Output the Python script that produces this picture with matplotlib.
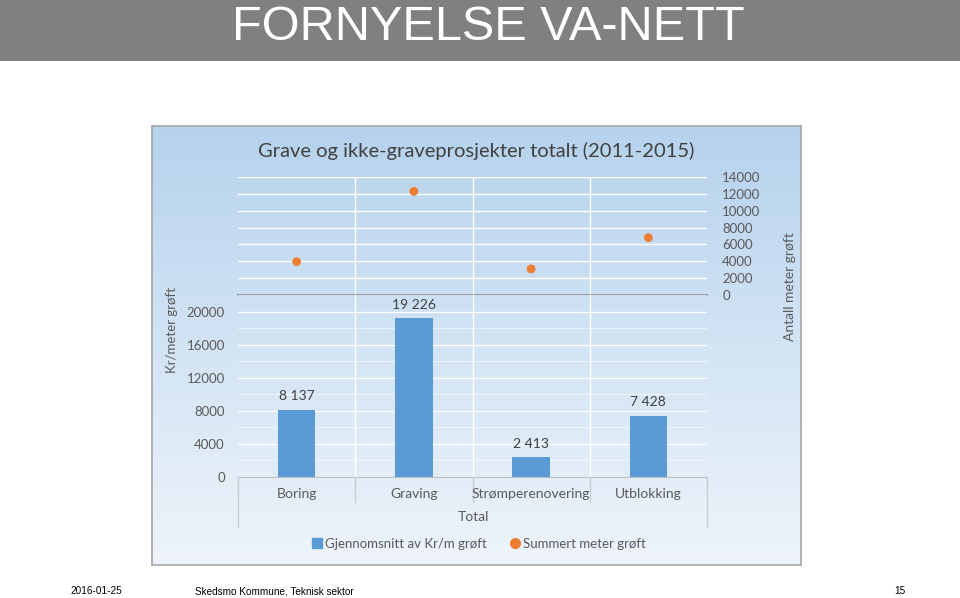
import matplotlib
matplotlib.use("Agg")
import matplotlib.pyplot as plt
import numpy as np
from matplotlib.lines import Line2D
from matplotlib.patches import Rectangle
from matplotlib.colors import LinearSegmentedColormap

categories = ["Boring", "Graving", "Strømperenovering", "Utblokking"]
kr_per_m = [8137, 19226, 2413, 7428]
bar_labels = ["8 137", "19 226", "2 413", "7 428"]
meter_sum = [3950, 12300, 3100, 6800]
left_ticks = [0, 4000, 8000, 12000, 16000, 20000]
right_ticks = [0, 2000, 4000, 6000, 8000, 10000, 12000, 14000]

W, H = 960, 598
fig = plt.figure(figsize=(9.6, 5.98), dpi=100)
fig.patch.set_facecolor("white")

def fx(x):
    return x / W

def fy(y):
    return 1 - y / H

CF = ["Lato", "DejaVu Sans"]
TXT = "#595959"
NF = ["Liberation Sans Narrow", "Liberation Sans", "DejaVu Sans"]

# header band
fig.patches.append(Rectangle((0, fy(61)), 1, 61 / H, transform=fig.transFigure,
                             facecolor="#808080", edgecolor="none", zorder=0))
fig.text(fx(488), fy(39.5), "FORNYELSE VA-NETT", color="white", fontsize=35,
         family=NF, fontstretch="condensed", ha="center", va="baseline")

# chart background with gradient
bg = fig.add_axes([fx(152), fy(565), fx(801 - 152), (565 - 126) / H], zorder=0)
cmap = LinearSegmentedColormap.from_list("g", ["#b6d2ed", "#d3e4f4", "#eef4fa"])
grad = np.linspace(0, 1, 256).reshape(-1, 1)
bg.imshow(grad, aspect="auto", cmap=cmap, extent=[0, 1, 0, 1], origin="upper")
bg.set_xlim(0, 1)
bg.set_ylim(0, 1)
bg.set_xticks([])
bg.set_yticks([])
for s in bg.spines.values():
    s.set_color("#a6a6a6")
    s.set_linewidth(1.2)

fig.text(fx(476), fy(151), "Grave og ikke-graveprosjekter totalt (2011-2015)",
         fontsize=14.5, color="#404040", family=CF, ha="center", va="center")

x = np.arange(len(categories))
xl = (-0.5, len(categories) - 0.5)

# upper scatter axes
ax2 = fig.add_axes([fx(238), fy(295), fx(707 - 238), (295 - 177) / H], zorder=2)
ax2.set_facecolor("none")
ax2.set_xlim(*xl)
ax2.set_ylim(0, 14000)
for t in right_ticks[1:]:
    ax2.axhline(t, color="white", lw=1.0, zorder=1)
for b in [0.5, 1.5, 2.5]:
    ax2.axvline(b, color="white", lw=1.0, zorder=1)
ax2.scatter(x, meter_sum, s=40, color="#ed7d31", zorder=3, edgecolors="none")
ax2.yaxis.tick_right()
ax2.set_yticks(right_ticks)
ax2.set_yticklabels([str(t) for t in right_ticks], family=CF, fontsize=9.5, color=TXT)
ax2.tick_params(axis="y", length=0, pad=11)
ax2.set_xticks([])
for s in ["top", "left", "right"]:
    ax2.spines[s].set_visible(False)
ax2.spines["bottom"].set_color("#8c9cab")
ax2.spines["bottom"].set_linewidth(1.3)
fig.text(fx(790), fy(287), "Antall meter grøft", rotation=90, fontsize=10,
         color=TXT, family=CF, ha="center", va="center")

# lower bar axes
ax = fig.add_axes([fx(238), fy(477), fx(707 - 238), (477 - 295) / H], zorder=2)
ax.set_facecolor("none")
ax.set_xlim(*xl)
ax.set_ylim(0, 22000)
for t in range(2000, 22001, 2000):
    ax.axhline(t, color="white", lw=0.9 if t % 4000 == 0 else 0.6,
               alpha=1.0 if t % 4000 == 0 else 0.7, zorder=1)
for b in [0.5, 1.5, 2.5]:
    ax.axvline(b, color="white", lw=1.0, zorder=1)
ax.bar(x, kr_per_m, width=0.32, color="#5b9bd5", zorder=3)
for xi, v, lab in zip(x, kr_per_m, bar_labels):
    ax.text(xi, v + 900, lab, ha="center", va="bottom", fontsize=10,
            color="#404040", family=CF)
ax.set_yticks(left_ticks)
ax.set_yticklabels([str(t) for t in left_ticks], family=CF, fontsize=9.5, color=TXT)
ax.tick_params(axis="y", length=0, pad=9.5)
ax.set_xticks([])
for s in ["top", "left", "right"]:
    ax.spines[s].set_visible(False)
ax.spines["bottom"].set_color("#bfbfbf")

# category labels and separators
for xi, c in zip(x, categories):
    fig.text(fx(238) + (xi + 0.5) / len(categories) * fx(707 - 238), fy(494), c,
             fontsize=10, color=TXT, family=CF, ha="center", va="center")
for i, b in enumerate(np.arange(-0.5, len(categories), 1.0)):
    xf = fx(238) + (b + 0.5) / len(categories) * fx(707 - 238)
    bottom = 527 if i in (0, len(categories)) else 502
    fig.lines.append(Line2D([xf, xf], [fy(477), fy(bottom)], transform=fig.transFigure,
                            color="#c8cdd2", lw=1.0, zorder=3))
fig.text(fx(473), fy(517), "Total", fontsize=10, color=TXT, family=CF,
         ha="center", va="center")
fig.text(fx(172), fy(330), "Kr/meter grøft", rotation=90, fontsize=9.5,
         color=TXT, family=CF, ha="center", va="center")

# legend
handles = [
    Line2D([], [], marker="s", linestyle="none", color="#5b9bd5", markersize=7),
    Line2D([], [], marker="o", linestyle="none", color="#ed7d31", markersize=7),
]
fig.legend(handles, ["Gjennomsnitt av Kr/m grøft", "Summert meter grøft"],
           loc="center", bbox_to_anchor=(fx(478), fy(544)), ncol=2, frameon=False,
           prop={"family": CF, "size": 9.5}, labelcolor=TXT, handletextpad=0.1,
           columnspacing=1.6, handlelength=1.0)

# footer
fig.text(fx(70), fy(591), "2016-01-25", fontsize=7.2, family=NF, fontstretch="condensed",
         color="black", va="center")
fig.text(fx(195), fy(591), "Skedsmo Kommune, Teknisk sektor", fontsize=7.2, family=NF,
         fontstretch="condensed", color="black", va="center")
fig.text(fx(906), fy(591), "15", fontsize=7.2, family=NF, fontstretch="condensed",
         color="black", va="center", ha="right")

fig.savefig("out.png", dpi=100, facecolor=fig.get_facecolor())
